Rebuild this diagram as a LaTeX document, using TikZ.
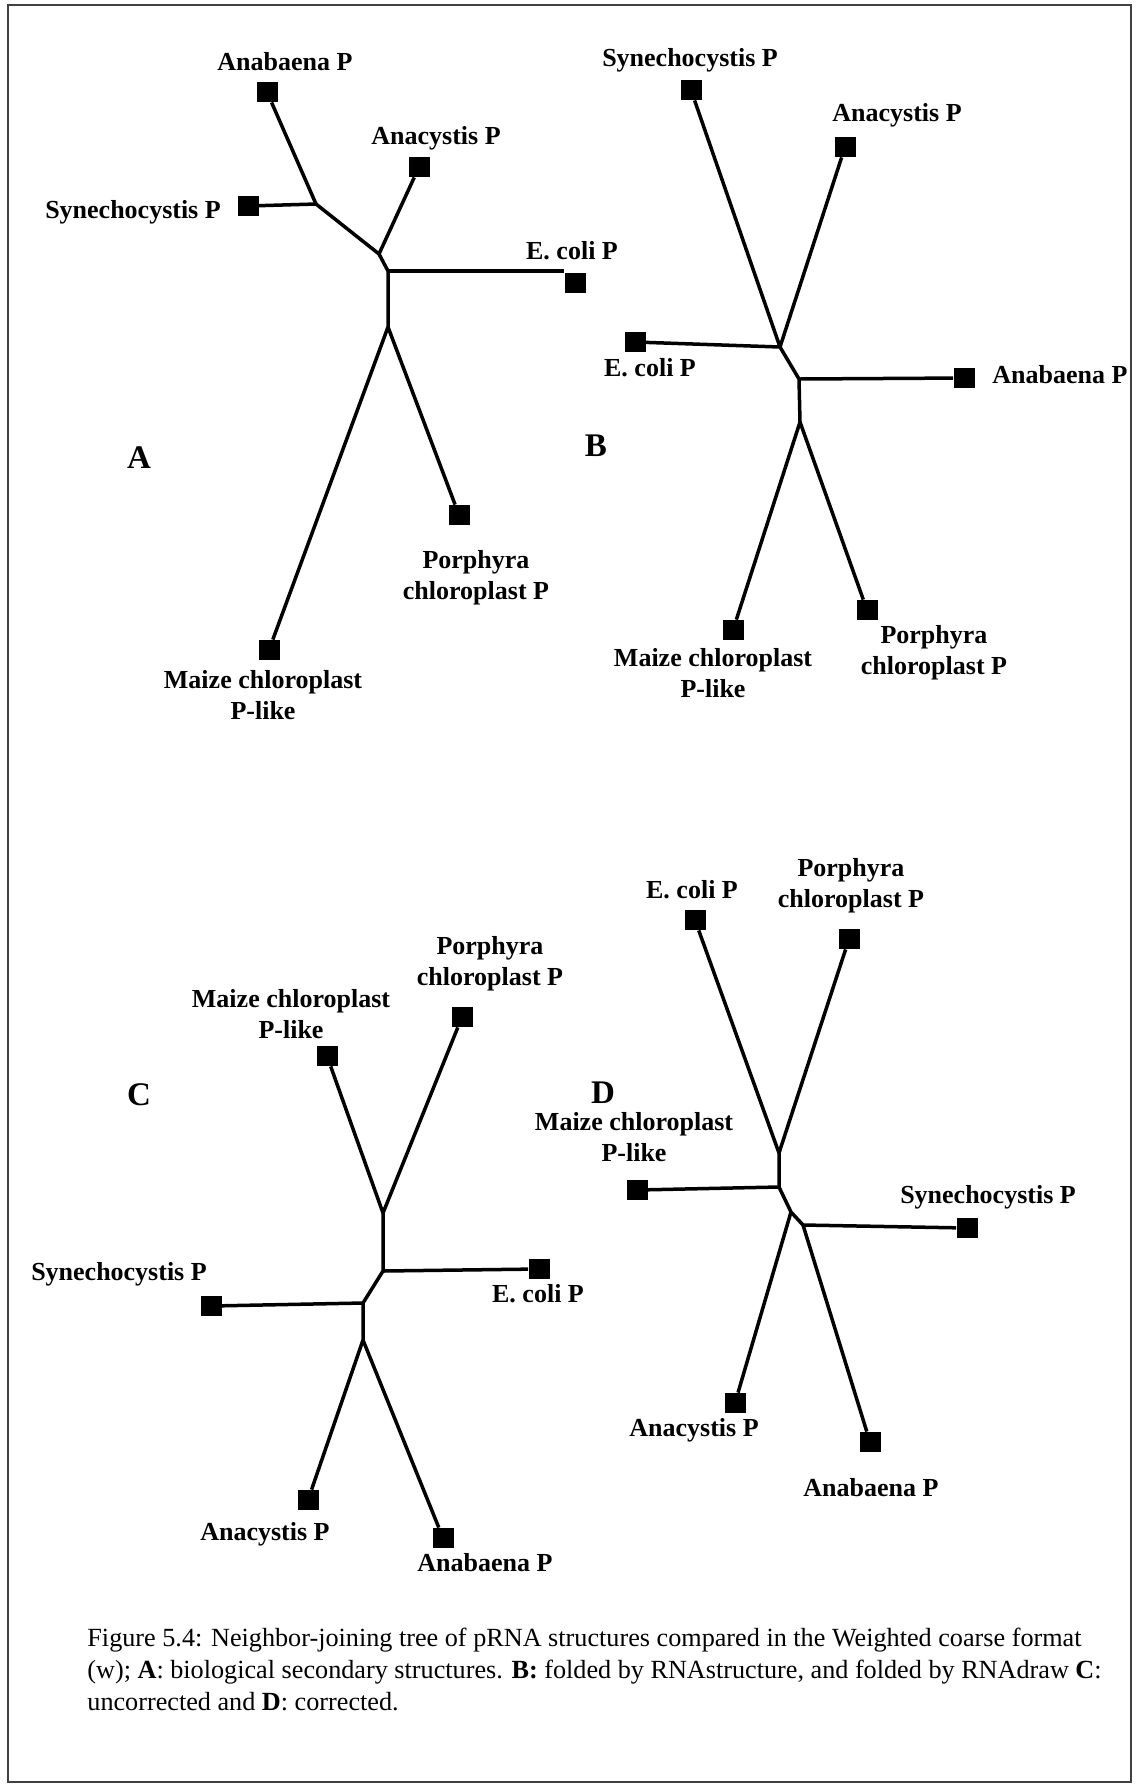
\documentclass[tikz,border=0pt]{standalone}
\usepackage{fontspec}
\setmainfont{Liberation Serif}
\begin{document}
\begin{tikzpicture}[x=0.5pt,y=-0.5pt,
  leaf/.style={fill=black,draw=none,rectangle,minimum width=10.5pt,minimum height=10pt,inner sep=0pt},
  taxon/.style={inner sep=0pt,align=center,font=\fontsize{13}{15.5}\selectfont\bfseries},
  panel/.style={inner sep=0pt,font=\fontsize{16.5}{20}\selectfont\bfseries},
  branch/.style={line width=1.75pt,line join=miter}]
\useasboundingbox (0,0) rectangle (1140,1790);
\draw[line width=0.8pt,black!75] (8,5) rectangle (1131,1782);

% ---------- tree A ----------
\node[panel] (A) at (139,458) {A};
\coordinate (a1) at (316,204);
\coordinate (a2) at (379,254);
\coordinate (a3) at (388,271);
\coordinate (a4) at (388,327);
\node[leaf] (aAnab) at (267,92) {};
\node[leaf] (aSyn) at (248,206) {};
\node[leaf] (aAnac) at (419,167) {};
\node[leaf] (aEco) at (575,283) {};
\node[leaf] (aPor) at (459,515) {};
\node[leaf] (aMai) at (269,650) {};
\node[taxon] (laAnab) at (285,62) {Anabaena P};
\node[taxon] (laSyn) at (133,212) {Synechocystis P};
\node[taxon] (laAnac) at (436,138) {Anacystis P};
\node[taxon] (laEco) at (572,251) {E. coli P};
\node[taxon] (laPor) at (476,578) {Porphyra\\chloroplast P};
\node[taxon] (laMai) at (263,695) {Maize chloroplast\\P-like};
\draw[branch] (aAnab) -- (a1) -- (a2) -- (a3) -- (a4) -- (aMai);
\draw[branch] (aSyn) -- (a1);
\draw[branch] (aAnac) -- (a2);
\draw[branch] (a3) -- (a3 -| aEco.west);
\draw[branch] (a4) -- (aPor);

% ---------- tree B ----------
\node[panel] (B) at (596,446) {B};
\coordinate (b1) at (780,347);
\coordinate (b2) at (799,379);
\coordinate (b3) at (800,422);
\node[leaf] (bSyn) at (691,90) {};
\node[leaf] (bAnac) at (845,147) {};
\node[leaf] (bEco) at (635,342) {};
\node[leaf] (bAnab) at (964,378) {};
\node[leaf] (bMai) at (733,630) {};
\node[leaf] (bPor) at (867,610) {};
\node[taxon] (lbSyn) at (690,60) {Synechocystis P};
\node[taxon] (lbAnac) at (897,115) {Anacystis P};
\node[taxon] (lbEco) at (650,368) {E. coli P};
\node[taxon] (lbAnab) at (1060,375) {Anabaena P};
\node[taxon] (lbMai) at (713,673) {Maize chloroplast\\P-like};
\node[taxon] (lbPor) at (934,653) {Porphyra\\chloroplast P};
\draw[branch] (bSyn) -- (b1) -- (b2) -- (b3) -- (bMai);
\draw[branch] (bAnac) -- (b1);
\draw[branch] (bEco) -- (b1);
\draw[branch] (b2) -- (bAnab);
\draw[branch] (b3) -- (bPor);

% ---------- tree C ----------
\node[panel] (C) at (139,1095) {C};
\coordinate (c1) at (383,1213);
\coordinate (c2) at (383,1271);
\coordinate (c3) at (363,1303);
\coordinate (c4) at (363,1340);
\node[leaf] (cMai) at (327,1056) {};
\node[leaf] (cPor) at (462,1017) {};
\node[leaf] (cEco) at (539,1269) {};
\node[leaf] (cSyn) at (211,1306) {};
\node[leaf] (cAnac) at (308,1500) {};
\node[leaf] (cAnab) at (443,1538) {};
\node[taxon] (lcMai) at (291,1014) {Maize chloroplast\\P-like};
\node[taxon] (lcPor) at (490,964) {Porphyra\\chloroplast P};
\node[taxon] (lcEco) at (538,1294) {E. coli P};
\node[taxon] (lcSyn) at (119,1274) {Synechocystis P};
\node[taxon] (lcAnac) at (265,1534) {Anacystis P};
\node[taxon] (lcAnab) at (485,1563) {Anabaena P};
\draw[branch] (cMai) -- (c1) -- (c2) -- (c3) -- (c4) -- (cAnac);
\draw[branch] (cPor) -- (c1);
\draw[branch] (c2) -- (cEco);
\draw[branch] (c3) -- (cSyn);
\draw[branch] (c4) -- (cAnab);

% ---------- tree D ----------
\node[panel] (D) at (603,1093) {D};
\coordinate (d1) at (779,1153);
\coordinate (d2) at (779,1187);
\coordinate (d3) at (791,1212);
\coordinate (d4) at (803,1225);
\node[leaf] (dEco) at (695,920) {};
\node[leaf] (dPor) at (849,939) {};
\node[leaf] (dMai) at (637,1190) {};
\node[leaf] (dSyn) at (967,1228) {};
\node[leaf] (dAnac) at (735,1403) {};
\node[leaf] (dAnab) at (870,1442) {};
\node[taxon] (ldEco) at (692,890) {E. coli P};
\node[taxon] (ldPor) at (851,886) {Porphyra\\chloroplast P};
\node[taxon] (ldMai) at (634,1137) {Maize chloroplast\\P-like};
\node[taxon] (ldSyn) at (988,1197) {Synechocystis P};
\node[taxon] (ldAnac) at (694,1430) {Anacystis P};
\node[taxon] (ldAnab) at (871,1488) {Anabaena P};
\draw[branch] (dEco) -- (d1) -- (d2) -- (d3) -- (d4) -- (dAnab);
\draw[branch] (dPor) -- (d1);
\draw[branch] (d2) -- (dMai);
\draw[branch] (d3) -- (dAnac);
\draw[branch] (d4) -- (dSyn);

% ---------- caption ----------
\node[inner sep=0pt,anchor=north west,align=left,font=\fontsize{13.1}{15.8}\selectfont] (caption) at (87,1628)
 {Figure 5.4: Neighbor-joining tree of pRNA structures compared in the Weighted coarse format\\
  (w); \textbf{A}: biological secondary structures. \textbf{B:} folded by RNAstructure, and folded by RNAdraw \textbf{C}:\\
  uncorrected and \textbf{D}: corrected.};
\end{tikzpicture}
\end{document}
